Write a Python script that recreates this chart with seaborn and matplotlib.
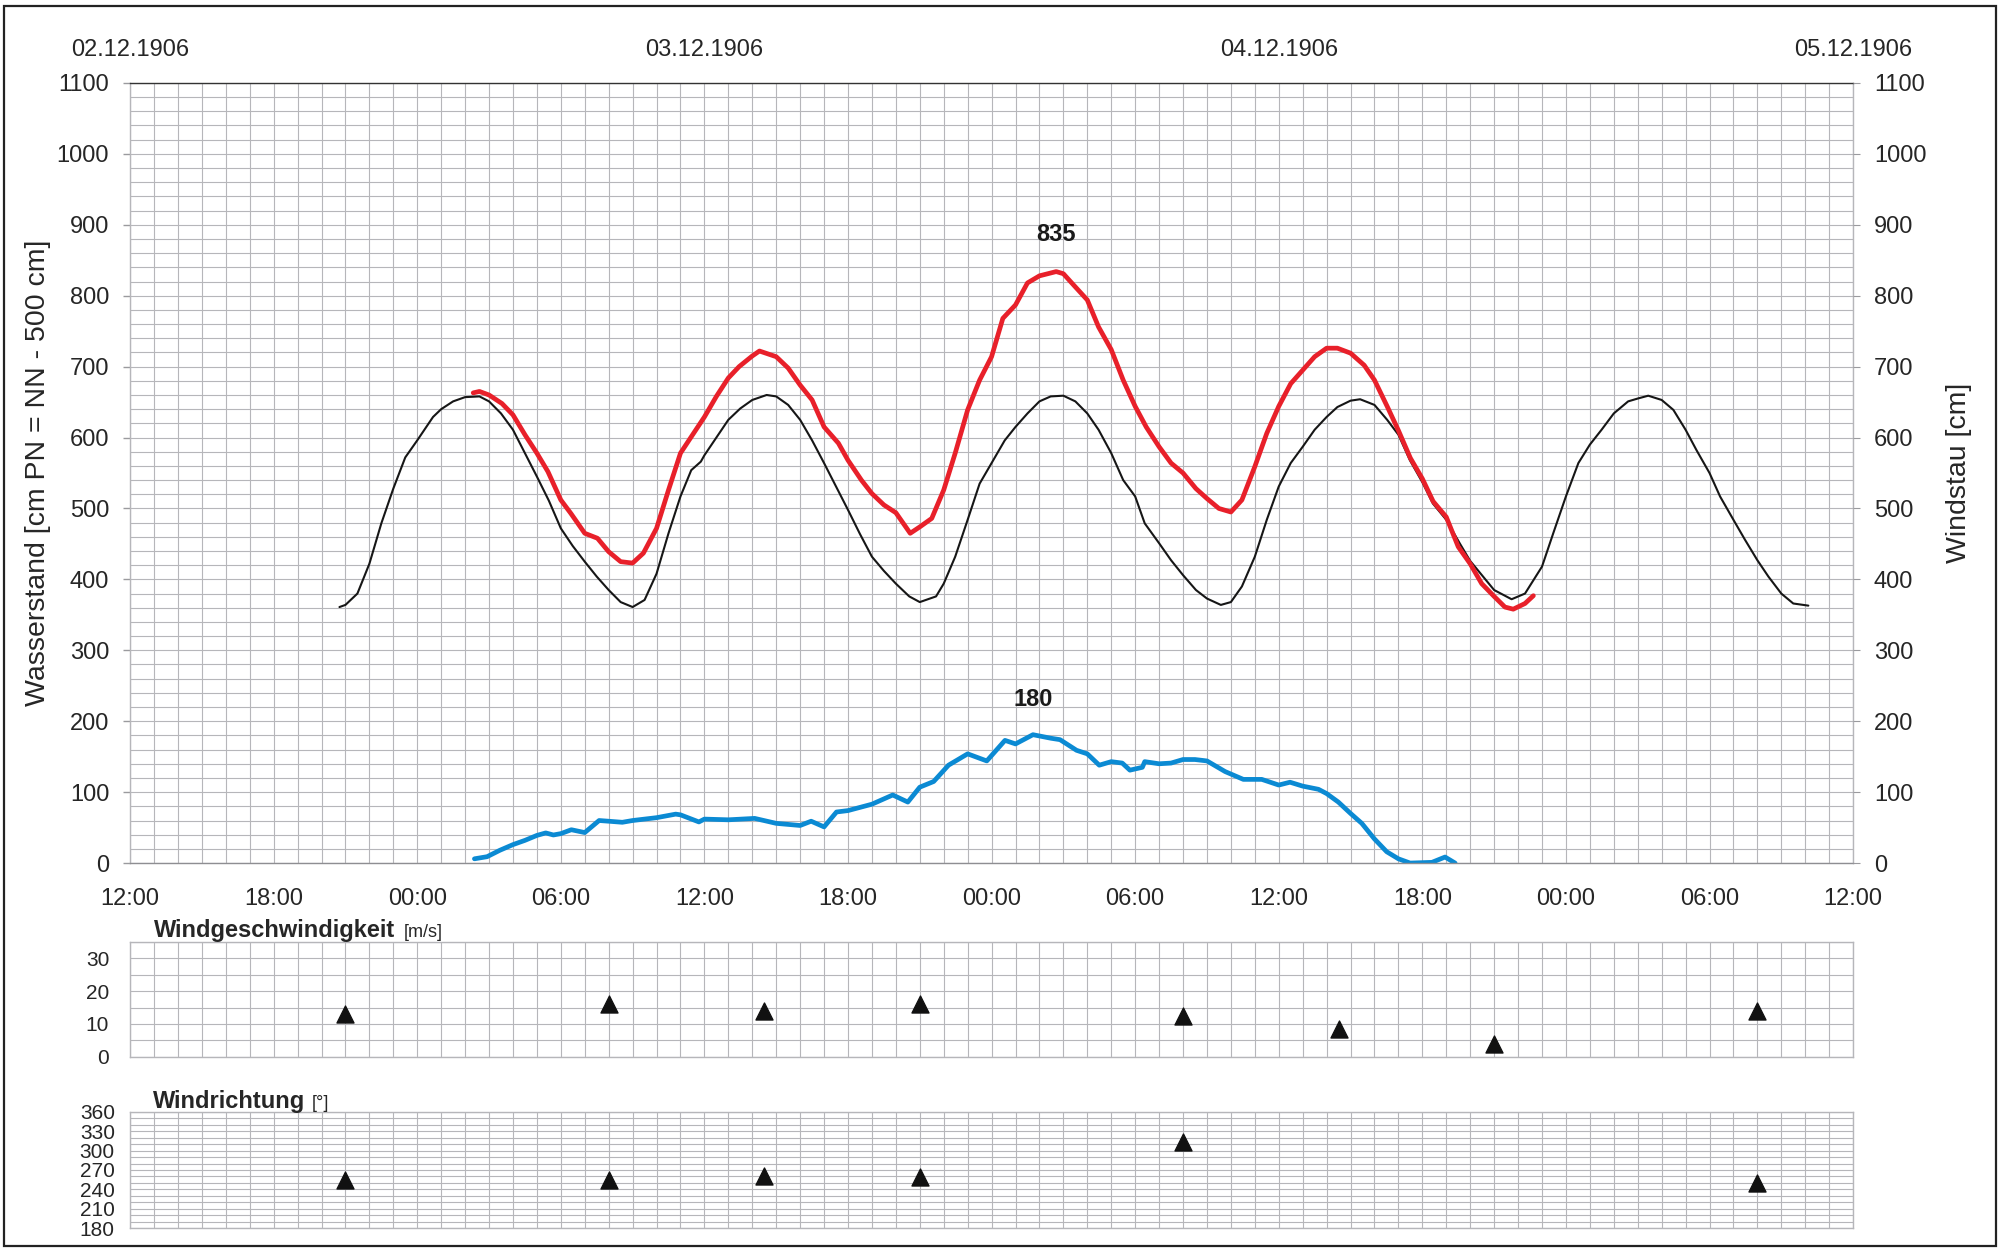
import matplotlib
matplotlib.use("Agg")
import numpy as np
import pandas as pd
import matplotlib.pyplot as plt
import seaborn as sns
from matplotlib.patches import Rectangle
from matplotlib.ticker import MultipleLocator

# time axis: hours after 02.12.1906 12:00
tide_h = [8.75, 9.0, 9.5, 10, 10.5, 11, 11.5, 12, 12.66, 13, 13.5, 14, 14.6, 15, 15.5, 16, 16.5, 17, 17.5,
          18, 18.5, 19, 19.5, 20, 20.5, 21, 21.5, 22, 22.5, 23, 23.45, 23.85, 24, 24.5, 25, 25.5, 26, 26.6,
          27, 27.5, 28, 28.5, 29, 29.5, 30, 30.5, 31, 31.5, 32, 32.56, 33, 33.68, 34, 34.48, 35, 35.5, 36,
          36.55, 37, 37.5, 38, 38.47, 39, 39.5, 40, 40.47, 41, 41.5, 42, 42.4, 43, 43.5, 44, 44.54, 45,
          45.58, 46, 46.46, 47, 47.5, 48, 48.5, 49, 49.5, 50, 50.45, 51, 51.4, 52, 52.53, 53, 53.48, 54,
          54.44, 55, 55.56, 56, 57, 57.73, 58.29, 59, 59.47, 60, 60.52, 61, 61.49, 62, 62.6, 63, 63.44,
          64, 64.49, 65, 65.46, 66, 66.44, 67, 67.48, 68, 68.46, 69, 69.5, 70.13]
tide_cm = [361, 364, 380, 422, 479, 528, 572, 596, 629, 640, 651, 657, 658, 651, 634, 611, 578, 545, 511,
           472, 447, 425, 404, 385, 368, 361, 371, 408, 465, 517, 554, 566, 575, 600, 625, 641, 653, 660,
           658, 646, 625, 596, 564, 531, 498, 464, 432, 412, 394, 376, 368, 376, 394, 432, 484, 535, 564,
           596, 615, 634, 651, 658, 659, 651, 634, 611, 578, 540, 517, 479, 451, 427, 406, 385, 373,
           364, 368, 390, 432, 484, 531, 564, 587, 611, 629, 643, 652, 654, 646, 625, 604, 568, 537,
           507, 484, 451, 426, 385, 372, 380, 418, 465, 517, 564, 590, 611, 634, 651, 655, 659,
           653, 639, 611, 582, 550, 517, 484, 456, 427, 404, 380, 366, 363]

obs_h = [14.34, 14.6, 15, 15.54, 16, 16.5, 17, 17.46, 18, 18.42, 19, 19.53, 20, 20.5, 21, 21.45, 22, 22.5,
         23, 23.45, 24, 24.5, 25, 25.45, 26, 26.3, 27, 27.5, 28, 28.5, 29, 29.6, 30, 30.56, 31, 31.5, 32,
         32.6, 33, 33.5, 34, 34.48, 35, 35.5, 36, 36.47, 37, 37.5, 38, 38.7, 39, 39.43, 40, 40.47, 41,
         41.5, 42, 42.46, 43, 43.5, 44, 44.54, 45, 45.5, 46, 46.46, 47, 47.5, 48, 48.5, 49, 49.5, 50,
         50.45, 51, 51.57, 52, 52.53, 53, 53.5, 54, 54.45, 55, 55.5, 56, 56.48, 57, 57.45, 57.8, 58.29,
         58.64]
obs_cm = [663, 665, 660, 648, 632, 604, 578, 552, 512, 493, 465, 458, 439, 425, 423, 437, 472, 526,
          578, 601, 629, 658, 684, 700, 715, 722, 714, 698, 674, 653, 615, 592, 568, 540, 521, 505, 494,
          465, 474, 486, 526, 578, 639, 681, 714, 768, 787, 818, 828, 834, 831, 815, 794, 756, 724,
          681, 644, 615, 587, 564, 550, 528, 514, 500, 495, 512, 559, 606, 644, 676, 695, 714, 726,
          726, 719, 702, 681, 644, 610, 571, 542, 510, 488, 446, 422, 394, 376, 361, 358, 366,
          377]

stau_h = [14.39, 14.92, 15.45, 16, 16.5, 17, 17.37, 17.69, 18, 18.44, 19, 19.6, 20, 20.57, 21, 22, 22.8,
          23, 23.77, 24, 25, 26.1, 27, 28, 28.46, 29, 29.52, 30, 31, 31.87, 32.5, 33, 33.58, 34.2, 35,
          35.8, 36.56, 37, 37.73, 38.48, 38.86, 39.55, 40, 40.5, 41, 41.46, 41.78, 42.3, 42.4, 43, 43.5,
          44, 44.5, 45, 45.76, 46.52, 47.29, 48, 48.47, 49, 49.66, 50, 50.49, 51, 51.47, 52, 52.51, 53,
          53.49, 54.4, 54.95, 55.37]
stau_cm = [6, 9, 18, 26, 32, 39, 42.5, 39.6, 41.5, 47, 43, 60, 59, 57.5, 60, 64, 69,
           68, 58, 62, 61, 63, 56, 53, 59, 51, 72, 74, 83, 96, 86, 107, 115, 138, 154,
           144, 173, 168, 181, 176, 174, 159, 154, 138, 143, 141, 131, 135, 143, 140, 141,
           146, 146, 144, 129, 118, 118, 110, 114, 108.5, 104, 98, 86, 70, 56, 34, 16, 6,
           0, 1, 8.5, 0]

wind_h = [9, 20, 26.5, 33, 44, 50.5, 57, 68]
wind_ms = [13, 16, 14, 16, 12.5, 8.5, 4, 14]
dir_h = [9, 20, 26.5, 33, 44, 68]
dir_deg = [254, 254, 261, 259, 313, 250]

time_ticks = list(range(0, 73, 6))
time_labels = ["12:00", "18:00", "00:00", "06:00"] * 3 + ["12:00"]
date_ticks = [0, 24, 48, 72]
date_labels = ["02.12.1906", "03.12.1906", "04.12.1906", "05.12.1906"]

sns.set_style("white")
plt.rcParams['font.family'] = ['Liberation Sans', 'DejaVu Sans']

grid_c = "#b6b6ba"
tick_c = "#9a9a9e"

fig = plt.figure(figsize=(20.04, 12.51), dpi=100)
ax = fig.add_axes([0.0649, 0.3101, 0.8598, 0.6236])
ax_ws = fig.add_axes([0.0649, 0.1553, 0.8598, 0.0917])
ax_wd = fig.add_axes([0.0649, 0.0181, 0.8598, 0.0933])


def grid_panel(a, ymin, ymax, ymajor, yminor, fs):
    a.set_xlim(0, 72)
    a.set_ylim(ymin, ymax)
    a.set_xticks(time_ticks)
    a.xaxis.set_minor_locator(MultipleLocator(1))
    a.yaxis.set_major_locator(MultipleLocator(ymajor))
    a.yaxis.set_minor_locator(MultipleLocator(yminor))
    a.grid(which='both', color=grid_c, lw=0.8)
    a.set_axisbelow(True)
    for s in a.spines.values():
        s.set_color(grid_c)
        s.set_linewidth(1.0)
    a.tick_params(which='major', length=5, width=1, color=tick_c, labelsize=fs, pad=10)
    a.tick_params(which='minor', length=0)
    a.set_xlabel("")
    a.set_ylabel("")


# main panel: water levels
sns.lineplot(x=tide_h, y=tide_cm, ax=ax, color="#161616", lw=1.5, sort=False, estimator=None)
sns.lineplot(x=obs_h, y=obs_cm, ax=ax, color="#e8202a", lw=3.4, sort=False, estimator=None)
sns.lineplot(x=stau_h, y=stau_cm, ax=ax, color="#0b8ad3", lw=3.4, sort=False, estimator=None)
grid_panel(ax, 0, 1100, 100, 20, 17)
ax.set_xticklabels(time_labels)
ax.tick_params(axis='x', pad=13)
ax.spines['top'].set_color("#333333")
ax.spines['bottom'].set_color("#8e8e92")
ax.set_ylabel("Wasserstand [cm PN = NN - 500 cm]", fontsize=20.5, labelpad=4)

ax.text(38.68, 887, "835", ha='center', va='center', fontsize=17, fontweight='bold', color="#1a1a1a")
ax.text(37.72, 231, "180", ha='center', va='center', fontsize=17, fontweight='bold', color="#1a1a1a")

axr = ax.twinx()
axr.set_ylim(0, 1100)
axr.yaxis.set_major_locator(MultipleLocator(100))
axr.tick_params(length=5, color=tick_c, labelsize=17, pad=10)
for s in axr.spines.values():
    s.set_visible(False)
axr.set_ylabel("Windstau [cm]", fontsize=20.5, labelpad=14)

top = ax.secondary_xaxis('top')
top.set_xticks(date_ticks, labels=date_labels)
top.tick_params(length=0, labelsize=17, pad=16)
top.spines['top'].set_visible(False)

# wind speed
sns.scatterplot(x=wind_h, y=wind_ms, ax=ax_ws, marker='^', s=150, color="#111111", edgecolor="#111111")
grid_panel(ax_ws, 0, 35, 10, 5, 15)
ax_ws.tick_params(axis='x', labelbottom=False)

# wind direction
sns.scatterplot(x=dir_h, y=dir_deg, ax=ax_wd, marker='^', s=150, color="#111111", edgecolor="#111111")
grid_panel(ax_wd, 180, 360, 30, 10, 15)
ax_wd.tick_params(axis='x', labelbottom=False)
ax_wd.tick_params(axis='y', pad=6)

fig.text(0.0768, 0.2512, "Windgeschwindigkeit", fontsize=17, fontweight='bold', va='baseline')
fig.text(0.2016, 0.2512, "[m/s]", fontsize=13, va='baseline')
fig.text(0.0762, 0.1143, "Windrichtung", fontsize=17, fontweight='bold', va='baseline')
fig.text(0.1555, 0.1143, "[°]", fontsize=13, va='baseline')

fig.patches.append(Rectangle((0.002, 0.004), 0.994, 0.991, transform=fig.transFigure,
                             fill=False, ec="#222222", lw=1.6))

fig.savefig("out.png", dpi=100)
